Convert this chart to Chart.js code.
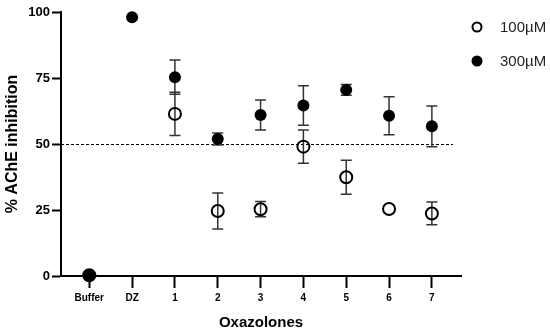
<!DOCTYPE html>
<html lang="en">
  <head>
    <meta charset="UTF-8" />
    <title>AChE inhibition</title>
    <script src="https://cdn.jsdelivr.net/npm/chart.js@4.4.1/dist/chart.umd.min.js"></script>
    <style>
      html, body { margin: 0; padding: 0; background: #fff; overflow: hidden; }
      canvas { display: block; }
    </style>
  </head>
  <body>
    <canvas id="chart" width="550" height="334"></canvas>

    <script>
      // categories along the x axis
      const compounds = ['Buffer', 'DZ', '1', '2', '3', '4', '5', '6', '7'];

      // mean % inhibition (null = not shown)
      const low100 = [0.3, null, 61.4, 24.6, 25.3, 49, 37.4, 25.4, 23.7];
      const high300 = [0.3, 98, 75.3, 51.9, 61, 64.6, 70.5, 60.7, 56.7];

      // error bar half-lengths
      const err100 = [0, 0, 8.2, 6.8, 2.9, 6.3, 6.4, 0, 4.3];
      const err300 = [0, 0, 6.5, 2.3, 5.7, 7.5, 2, 7.2, 7.7];

      const yTicks = [0, 25, 50, 75, 100];
      const refLine = 50;

      const FONT = "'Liberation Sans', Arial, Helvetica, sans-serif";

      function toPoints(vals, errs) {
        let pts = [];
        for (let i = 0; i < vals.length; i++) {
          if (vals[i] === null) continue;
          pts.push({ x: i, y: vals[i], err: errs[i] });
        }
        return pts;
      }

      // dashed line at 50 and the error bars, under the markers
      const underlay = {
        id: 'underlay',
        beforeDatasetsDraw(chart) {
          const ctx = chart.ctx;
          const xs = chart.scales.x, ys = chart.scales.y;
          ctx.save();
          ctx.strokeStyle = '#000';
          ctx.lineWidth = 1;
          ctx.setLineDash([3, 2]);
          const yy = Math.round(ys.getPixelForValue(refLine)) + 0.5;
          ctx.beginPath();
          ctx.moveTo(chart.chartArea.left, yy);
          ctx.lineTo(chart.chartArea.right - 8, yy);
          ctx.stroke();
          ctx.setLineDash([]);

          ctx.strokeStyle = '#333';
          ctx.lineWidth = 1.5;
          chart.data.datasets.forEach(ds => {
            ds.data.forEach(p => {
              if (!p.err) return;
              const px = xs.getPixelForValue(p.x);
              const top = ys.getPixelForValue(p.y + p.err);
              const bot = ys.getPixelForValue(p.y - p.err);
              ctx.beginPath();
              ctx.moveTo(px, top); ctx.lineTo(px, bot);
              ctx.moveTo(px - 5.5, top); ctx.lineTo(px + 5.5, top);
              ctx.moveTo(px - 5.5, bot); ctx.lineTo(px + 5.5, bot);
              ctx.stroke();
            });
          });
          ctx.restore();
        }
      };

      // legend in the top right corner
      const sideLegend = {
        id: 'sideLegend',
        afterDraw(chart) {
          const ctx = chart.ctx;
          ctx.save();
          ctx.font = '15px ' + FONT;
          ctx.textBaseline = 'middle';
          chart.data.datasets.forEach((ds, i) => {
            const cy = 27 + i * 34;
            ctx.beginPath();
            if (ds.pointBackgroundColor === '#000') {
              ctx.arc(477, cy, 5.5, 0, Math.PI * 2);
              ctx.fillStyle = '#000';
              ctx.fill();
            } else {
              ctx.arc(477, cy, 4.5, 0, Math.PI * 2);
              ctx.lineWidth = 2;
              ctx.strokeStyle = '#000';
              ctx.stroke();
            }
            ctx.fillStyle = '#222';
            ctx.fillText(ds.label, 500, cy + 1);
          });
          ctx.restore();
        }
      };

      const ctx = document.getElementById('chart').getContext('2d');
      const myChart = new Chart(ctx, {
        type: 'scatter',
        data: {
          datasets: [{
            label: '100\u00b5M',
            data: toPoints(low100, err100),
            clip: false,
            pointRadius: 6,
            pointHoverRadius: 6,
            pointBorderWidth: 2,
            pointBorderColor: '#000',
            pointBackgroundColor: 'rgba(0,0,0,0)'
          }, {
            label: '300\u00b5M',
            data: toPoints(high300, err300),
            clip: false,
            pointRadius: 6,
            pointHoverRadius: 6,
            pointBorderWidth: 0,
            pointBorderColor: '#000',
            pointBackgroundColor: '#000'
          }]
        },
        options: {
          responsive: false,
          animation: false,
          layout: { padding: { top: 12, right: 89, left: 0, bottom: 0 } },
          plugins: {
            legend: { display: false },
            tooltip: { enabled: false }
          },
          scales: {
            x: {
              type: 'linear',
              min: -0.66,
              max: 8.68,
              afterBuildTicks: s => { s.ticks = compounds.map((c, i) => ({ value: i })); },
              afterFit: s => { s.height = 58; },
              ticks: {
                callback: v => compounds[v],
                autoSkip: false,
                color: '#000',
                padding: 4,
                maxRotation: 0,
                font: { family: FONT, size: 10, weight: 'bold' }
              },
              grid: { drawOnChartArea: false, tickLength: 12, tickWidth: 2, tickColor: '#000' },
              border: { color: '#000', width: 2 },
              title: {
                display: true,
                text: 'Oxazolones',
                color: '#000',
                padding: { top: 0, bottom: 2 },
                font: { family: FONT, size: 15, weight: 'bold' }
              }
            },
            y: {
              min: 0,
              max: 100,
              afterBuildTicks: s => { s.ticks = yTicks.map(v => ({ value: v })); },
              afterFit: s => { s.width = 61; },
              ticks: {
                autoSkip: false,
                color: '#000',
                padding: 2,
                font: { family: FONT, size: 13, weight: 'bold' }
              },
              grid: { drawOnChartArea: false, tickLength: 9, tickWidth: 2, tickColor: '#000' },
              border: { color: '#000', width: 2 },
              title: {
                display: true,
                text: '% AChE inhibition',
                color: '#000',
                padding: { top: 3, bottom: 0 },
                font: { family: FONT, size: 16, weight: 'bold' }
              }
            }
          }
        },
        plugins: [underlay, sideLegend]
      });
    </script>
  </body>
</html>
